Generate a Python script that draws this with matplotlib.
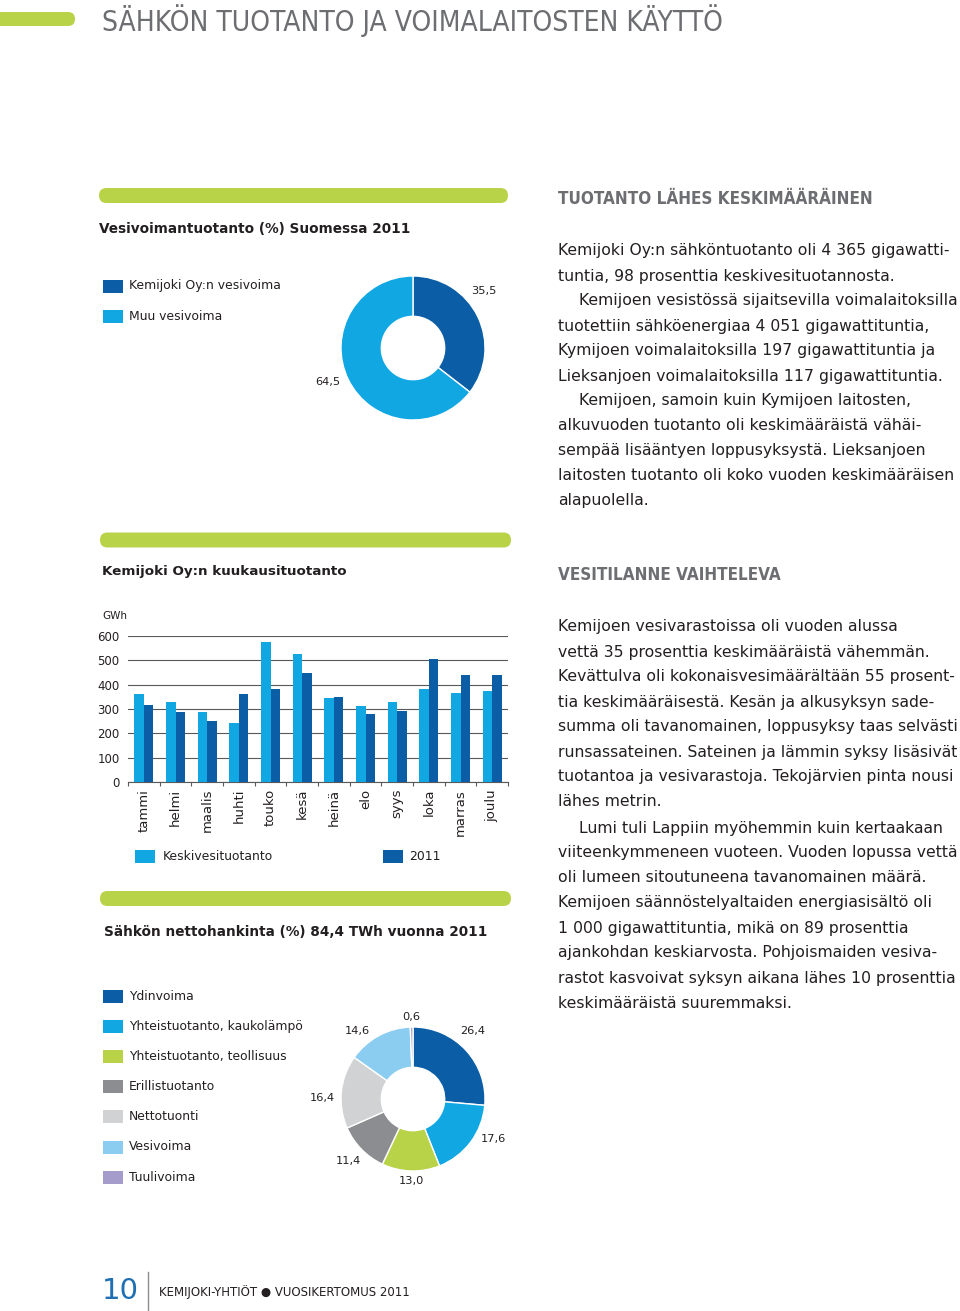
import matplotlib
matplotlib.use("Agg")
import matplotlib.pyplot as plt
from matplotlib.patches import FancyBboxPatch, Rectangle
import numpy as np

# ---------------- data ----------------
page_title = "SÄHKÖN TUOTANTO JA VOIMALAITOSTEN KÄYTTÖ"

hydro_labels = ["Kemijoki Oy:n vesivoima", "Muu vesivoima"]
hydro_values = [35.5, 64.5]
hydro_texts = ["35,5", "64,5"]

months = ["tammi", "helmi", "maalis", "huhti", "touko", "kesä",
          "heinä", "elo", "syys", "loka", "marras", "joulu"]
avg_prod = [360, 329, 286, 241, 576, 528, 344, 311, 330, 383, 365, 372]
prod_2011 = [318, 286, 252, 360, 383, 448, 348, 280, 291, 506, 441, 440]
yticks = [0, 100, 200, 300, 400, 500, 600]
bar_series = ["Keskivesituotanto", "2011"]

supply_labels = ["Ydinvoima", "Yhteistuotanto, kaukolämpö", "Yhteistuotanto, teollisuus",
                 "Erillistuotanto", "Nettotuonti", "Vesivoima", "Tuulivoima"]
supply_values = [26.4, 17.6, 13.0, 11.4, 16.4, 14.6, 0.6]
supply_texts = ["26,4", "17,6", "13,0", "11,4", "16,4", "14,6", "0,6"]

para1 = [
    "Kemijoki Oy:n sähköntuotanto oli 4 365 gigawatti-",
    "tuntia, 98 prosenttia keskivesituotannosta.",
    "Kemijoen vesistössä sijaitsevilla voimalaitoksilla",
    "tuotettiin sähköenergiaa 4 051 gigawattituntia,",
    "Kymijoen voimalaitoksilla 197 gigawattituntia ja",
    "Lieksanjoen voimalaitoksilla 117 gigawattituntia.",
    "Kemijoen, samoin kuin Kymijoen laitosten,",
    "alkuvuoden tuotanto oli keskimääräistä vähäi-",
    "sempää lisääntyen loppusyksystä. Lieksanjoen",
    "laitosten tuotanto oli koko vuoden keskimääräisen",
    "alapuolella.",
]
para1_indent = [2, 6]

para2 = [
    "Kemijoen vesivarastoissa oli vuoden alussa",
    "vettä 35 prosenttia keskimääräistä vähemmän.",
    "Kevättulva oli kokonaisvesimäärältään 55 prosent-",
    "tia keskimääräisestä. Kesän ja alkusyksyn sade-",
    "summa oli tavanomainen, loppusyksy taas selvästi",
    "runsassateinen. Sateinen ja lämmin syksy lisäsivät",
    "tuotantoa ja vesivarastoja. Tekojärvien pinta nousi",
    "lähes metrin.",
    "Lumi tuli Lappiin myöhemmin kuin kertaakaan",
    "viiteenkymmeneen vuoteen. Vuoden lopussa vettä",
    "oli lumeen sitoutuneena tavanomainen määrä.",
    "Kemijoen säännöstelyaltaiden energiasisältö oli",
    "1 000 gigawattituntia, mikä on 89 prosenttia",
    "ajankohdan keskiarvosta. Pohjoismaiden vesiva-",
    "rastot kasvoivat syksyn aikana lähes 10 prosenttia",
    "keskimääräistä suuremmaksi.",
]
para2_indent = [8]

# ---------------- style ----------------
W, H = 960, 1311
DARK = "#0b5ea6"
CYAN = "#10a7e3"
GREEN = "#b8d348"
GREY = "#8c8d90"
LGREY = "#d1d2d4"
LBLUE = "#8acdf0"
PURPLE = "#a69ccb"
supply_colors = [DARK, CYAN, GREEN, GREY, LGREY, LBLUE, PURPLE]
hydro_colors = [DARK, CYAN]
TXT = "#231f20"
HEADGREY = "#6d6e71"

BODY = ["DejaVu Sans"]
NARROW = ["DejaVu Sans"]

# label anchor points around the donuts (pixel positions on the page)
hydro_label_pos = [(484, 291), (328, 382)]
supply_label_pos = [(473, 1031), (493, 1139), (411, 1181), (348, 1161),
                    (322, 1098), (357, 1031), (411, 1017)]

fig = plt.figure(figsize=(W / 100, H / 100), dpi=100)
bg = fig.add_axes([0, 0, 1, 1], zorder=0)
bg.set_xlim(0, W)
bg.set_ylim(H, 0)
bg.axis("off")
renderer = fig.canvas.get_renderer()


def fit(t, target_w):
    w = t.get_window_extent(renderer=renderer).width
    t.set_fontsize(t.get_fontsize() * target_w / w)
    return t.get_fontsize()


def px_axes(x0, y0, x1, y1, **kw):
    return fig.add_axes([x0 / W, 1 - y1 / H, (x1 - x0) / W, (y1 - y0) / H], **kw)


def green_bar(x0, x1, yc, h=15):
    bg.add_patch(FancyBboxPatch((x0, yc - h / 2), x1 - x0, h,
                                boxstyle=f"round,pad=0,rounding_size={h/2}",
                                fc=GREEN, ec="none"))


def swatch(x, yc, color, w=20, h=13):
    bg.add_patch(Rectangle((x, yc - h / 2), w, h, fc=color, ec="none"))


# page title
green_bar(-30, 75, 19, 14)
t = bg.text(102, 21, page_title, family=NARROW, fontstretch="condensed", fontsize=20,
            color=HEADGREY, va="center", ha="left")
fit(t, 620)

# ---------------- section 1: hydro donut ----------------
green_bar(99, 508, 195.5)
t = bg.text(99, 229, "Vesivoimantuotanto (%) Suomessa 2011", family=BODY,
            fontsize=10, fontweight="bold", color=TXT, va="center")
fit(t, 310)
for i, (lab, col) in enumerate(zip(hydro_labels, hydro_colors)):
    yc = 286 + 30 * i
    swatch(103, yc, col)
    bg.text(129, yc, lab, family=BODY, fontsize=8.95, color=TXT, va="center")

R = 72
ax1 = px_axes(413 - 1.5 * R, 348 - 1.5 * R, 413 + 1.5 * R, 348 + 1.5 * R)
ax1.pie(hydro_values, colors=hydro_colors, startangle=90, counterclock=False,
        radius=1, wedgeprops=dict(width=0.56, edgecolor="white", linewidth=1))
ax1.set_xlim(-1.5, 1.5)
ax1.set_ylim(-1.5, 1.5)
ax1.axis("off")
for s, (x, y) in zip(hydro_texts, hydro_label_pos):
    bg.text(x, y, s, family=BODY, fontsize=8.2, color=TXT, ha="center", va="center")

# right column 1
t = bg.text(558, 199, "TUOTANTO LÄHES KESKIMÄÄRÄINEN", family=NARROW, fontstretch="condensed",
            fontsize=14, fontweight="bold", color=HEADGREY, va="center")
head_fs = fit(t, 315)
t = bg.text(558, 251, para1[0], family=BODY, fontsize=11, color=TXT, va="center")
body_fs = fit(t, 390)
for i, line in enumerate(para1[1:], start=1):
    x = 579 if i in para1_indent else 558
    bg.text(x, 251 + 25 * i, line, family=BODY, fontsize=body_fs, color=TXT, va="center")

# ---------------- section 2: monthly bars ----------------
green_bar(100, 511, 540)
t = bg.text(102, 572, "Kemijoki Oy:n kuukausituotanto", family=BODY,
            fontsize=10, fontweight="bold", color=TXT, va="center")
fit(t, 244)
bg.text(102, 616, "GWh", family=BODY, fontsize=7.5, color=TXT, va="center")

axb = px_axes(128, 636, 508, 782)
xs = np.arange(len(months))
bw = 0.3
axb.bar(xs - bw / 2, avg_prod, bw, color=CYAN, zorder=3)
axb.bar(xs + bw / 2, prod_2011, bw, color=DARK, zorder=3)
axb.set_xlim(-0.5, len(months) - 0.5)
axb.set_ylim(0, 600)
axb.set_yticks(yticks)
axb.set_yticklabels([str(v) for v in yticks], family=BODY, fontsize=8.5, color=TXT)
axb.tick_params(axis="y", length=0, pad=6)
axb.grid(axis="y", color="#58595b", linewidth=0.8, zorder=0)
axb.set_xticks(xs)
axb.set_xticklabels(months, rotation=90, family=BODY, fontsize=9.5, color=TXT)
axb.set_xticks(np.arange(len(months) + 1) - 0.5, minor=True)
axb.tick_params(axis="x", which="major", length=0, pad=5)
axb.tick_params(axis="x", which="minor", length=3, color="#58595b", width=0.8)
for s in ["top", "right", "left"]:
    axb.spines[s].set_visible(False)
axb.spines["bottom"].set_color("#58595b")
axb.spines["bottom"].set_linewidth(0.8)
axb.set_facecolor("none")

swatch(135, 856, CYAN)
bg.text(163, 856, bar_series[0], family=BODY, fontsize=8.95, color=TXT, va="center")
swatch(383, 856, DARK)
bg.text(409, 856, bar_series[1], family=BODY, fontsize=8.95, color=TXT, va="center")

# right column 2
bg.text(558, 575, "VESITILANNE VAIHTELEVA", family=NARROW, fontstretch="condensed",
        fontsize=head_fs, fontweight="bold", color=HEADGREY, va="center")
for i, line in enumerate(para2):
    x = 579 if i in para2_indent else 558
    y = 627 + 25 * i + (1 if i >= 8 else 0)
    bg.text(x, y, line, family=BODY, fontsize=body_fs, color=TXT, va="center")

# ---------------- section 3: supply donut ----------------
green_bar(100, 511, 898.5)
t = bg.text(104, 932, "Sähkön nettohankinta (%) 84,4 TWh vuonna 2011", family=BODY,
            fontsize=10, fontweight="bold", color=TXT, va="center")
fit(t, 383)
for i, (lab, col) in enumerate(zip(supply_labels, supply_colors)):
    yc = 996 + 30.2 * i
    swatch(103, yc, col)
    bg.text(129, yc, lab, family=BODY, fontsize=8.95, color=TXT, va="center")

ax2 = px_axes(413 - 1.5 * R, 1099 - 1.5 * R, 413 + 1.5 * R, 1099 + 1.5 * R)
ax2.pie(supply_values, colors=supply_colors, startangle=90, counterclock=False,
        radius=1, wedgeprops=dict(width=0.56, edgecolor="white", linewidth=1))
ax2.set_xlim(-1.5, 1.5)
ax2.set_ylim(-1.5, 1.5)
ax2.axis("off")
for s, (x, y) in zip(supply_texts, supply_label_pos):
    bg.text(x, y, s, family=BODY, fontsize=8.2, color=TXT, ha="center", va="center")

# ---------------- footer ----------------
bg.text(102, 1291, "10", family=BODY, fontsize=21, color="#1f6fb2", va="center")
bg.plot([148, 148], [1272, 1310], color="#8c8d90", linewidth=1)
t = bg.text(159, 1292, "KEMIJOKI-YHTIÖT \u25CF VUOSIKERTOMUS 2011", family=BODY,
            fontsize=8.4, color=TXT, va="center")
fit(t, 251)

fig.savefig("out.png", dpi=100)
